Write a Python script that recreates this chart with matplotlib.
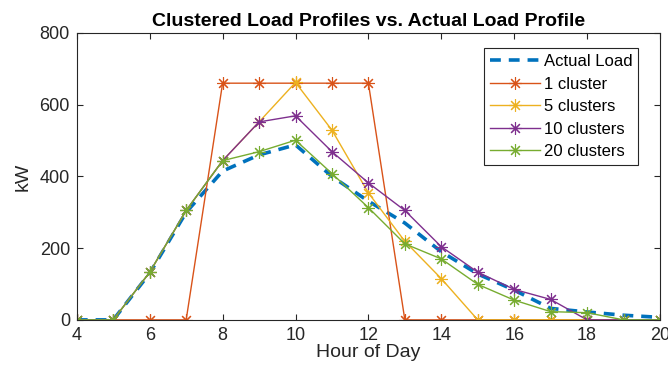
import numpy as np
from matplotlib import pyplot as plt

plt.rcParams['font.family'] = ['Liberation Sans', 'DejaVu Sans']

hours = list(range(4, 21))

actual_load = [0, 0, 130, 300, 415, 460, 488, 400, 331, 270, 190, 128, 83, 32, 22, 13, 7]
cluster_1 = [0, 0, 0, 0, 660, 660, 660, 660, 660, 0, 0, 0, 0, 0, 0, 0, 0]
cluster_5 = [0, 0, 133, 305, 444, 552, 662, 529, 354, 219, 115, 0, 0, 0, 0, 0, 0]
cluster_10 = [0, 0, 133, 305, 444, 552, 569, 469, 382, 305, 204, 133, 85, 57, 0, 0, 0]
cluster_20 = [0, 0, 133, 305, 444, 469, 501, 408, 313, 212, 170, 99, 55, 23, 20, 0, 0]

series = [
    (cluster_1, '1 cluster', '#D95319'),
    (cluster_5, '5 clusters', '#EDB120'),
    (cluster_10, '10 clusters', '#7E2F8E'),
    (cluster_20, '20 clusters', '#77AC30'),
]

fig = plt.figure(figsize=(6.68, 3.79), dpi=100)
ax = fig.add_axes([0.115, 0.156, 0.873, 0.757])

ax.plot(hours, actual_load, color='#0072BD', linestyle='--', linewidth=2.6,
        dashes=(3, 2.2), label='Actual Load')
# matlab style asterisk marker
for values, name, colour in series:
    ax.plot(hours, values, color=colour, linewidth=1.0, marker=(8, 2, 0),
            markersize=9, markeredgewidth=0.8, label=name)

ax.set_xlim(4, 20)
ax.set_ylim(0, 800)
ax.set_xticks(range(4, 21, 2))
ax.set_yticks(range(0, 801, 200))

grey = '#262626'
for side in ax.spines.values():
    side.set_color(grey)
    side.set_linewidth(0.8)
ax.tick_params(direction='in', top=True, right=True, colors=grey,
               labelsize=13, length=4, width=0.8, pad=5)

ax.set_xlabel('Hour of Day', fontsize=14, color=grey, labelpad=0)
ax.set_ylabel('kW', fontsize=14, color=grey, labelpad=6)
ax.set_title('Clustered Load Profiles vs. Actual Load Profile',
             fontsize=14, fontweight='bold', pad=5)

leg = ax.legend(loc='upper right', bbox_to_anchor=(0.968, 0.958), fontsize=12,
                fancybox=False, framealpha=1, edgecolor=grey,
                handlelength=3.0, handletextpad=0.2, borderpad=0.35,
                labelspacing=0.45, borderaxespad=0.2)
leg.get_frame().set_linewidth(0.8)

fig.savefig('out.png', dpi=100)
